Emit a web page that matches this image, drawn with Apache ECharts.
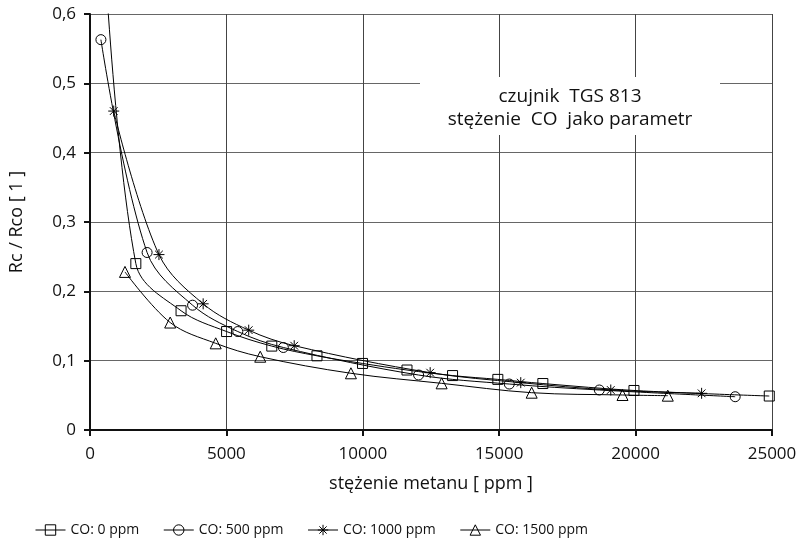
<!DOCTYPE html>
<html>
<head>
<meta charset="utf-8">
<script src="https://cdn.jsdelivr.net/npm/echarts@6/dist/echarts.min.js"></script>
<style>
  html, body { margin: 0; padding: 0; background: #fff; }
  #chart { width: 801px; height: 544px; }
</style>
</head>
<body>
<div id="chart"></div>
<script>
// [stężenie metanu ppm, Rc/Rco]
const co0 = [[400, 0.78], [1680, 0.240], [3338, 0.172], [5007, 0.142], [6664, 0.121], [8320, 0.107],
    [9990, 0.096], [11620, 0.0865], [13290, 0.0785], [14950, 0.073], [16600, 0.067], [19940, 0.057], [24900, 0.049]];
const co500 = [[400, 0.563], [2093, 0.256], [3760, 0.180], [5418, 0.142], [7087, 0.119],
    [12045, 0.0793], [15370, 0.0663], [18670, 0.0577], [23650, 0.048]];
const co1000 = [[870, 0.46], [2528, 0.253], [4148, 0.182], [5818, 0.144], [7486, 0.1216],
    [12470, 0.0827], [15790, 0.0683], [19090, 0.0577], [22420, 0.0529]];
const co1500 = [[1282, 0.228], [2939, 0.155], [4608, 0.125], [6240, 0.1057], [9565, 0.0818],
    [12890, 0.0673], [16190, 0.0538], [19520, 0.0505], [21180, 0.0495]];

const seriesNames = ["CO: 0 ppm", "CO: 500 ppm", "CO: 1000 ppm", "CO: 1500 ppm"];
const noteLines = ["czujnik  TGS 813", "stężenie  CO  jako parametr"];

const font = "'Open Sans', 'DejaVu Sans', sans-serif";
const starPath = "path://M5,0L5,10M0,5L10,5M1.5,1.5L8.5,8.5M8.5,1.5L1.5,8.5";

function makeSeries(name, data, symbol, size) {
    return {
        name: name,
        type: "line",
        data: data,
        smooth: 0.35,
        symbol: symbol,
        symbolSize: size,
        showAllSymbol: true,
        clip: true,
        color: "#000",
        lineStyle: { color: "#000", width: 1 },
        itemStyle: { color: "rgba(0,0,0,0)", borderColor: "#000", borderWidth: 1 },
        emphasis: { disabled: true },
        z: 3
    };
}

const chart = echarts.init(document.getElementById("chart"));
chart.setOption({
    animation: false,
    backgroundColor: "#fff",
    textStyle: { fontFamily: font },
    grid: { left: 83, right: 29, top: 14, bottom: 114 },
    xAxis: {
        type: "value", min: 0, max: 25000, interval: 5000,
        name: "stężenie metanu [ ppm ]", nameLocation: "middle", nameGap: 45,
        nameTextStyle: { fontSize: 18, color: "#111", fontFamily: font },
        axisLine: { lineStyle: { color: "#111", width: 2 } },
        axisTick: { show: true, length: 6, lineStyle: { color: "#111", width: 2 } },
        axisLabel: { fontSize: 17, color: "#111", margin: 16, formatter: v => String(v) },
        splitLine: { show: true, lineStyle: { color: "#444", width: 1 } }
    },
    yAxis: {
        type: "value", min: 0, max: 0.6, interval: 0.1,
        name: "Rc / Rco [ 1 ]", nameLocation: "middle", nameGap: 64, nameRotate: 90,
        nameTextStyle: { fontSize: 18, color: "#111", fontFamily: font },
        axisLine: { show: true, lineStyle: { color: "#111", width: 2 } },
        axisTick: { show: true, length: 6, lineStyle: { color: "#111", width: 2 } },
        axisLabel: {
            fontSize: 17, color: "#111", margin: 14,
            formatter: v => (Math.round(v * 10) / 10).toString().replace(".", ",")
        },
        splitLine: { show: true, lineStyle: { color: "#666", width: 1 } }
    },
    legend: {
        bottom: 2, left: 30,
        itemWidth: 30, itemHeight: 13, itemGap: 24,
        lineStyle: { width: 1, color: "#000" },
        itemStyle: { borderWidth: 1, borderColor: "#000" },
        textStyle: { fontSize: 14, color: "#111", fontFamily: font },
        data: seriesNames
    },
    graphic: [
        {
            type: "rect", left: 420, top: 77, z: 10,
            shape: { width: 300, height: 58 },
            style: { fill: "#fff" }
        },
        {
            type: "text", z: 11, x: 570, y: 97,
            style: { text: noteLines[0], fill: "#111", font: "19px " + font, align: "center", verticalAlign: "middle" }
        },
        {
            type: "text", z: 11, x: 570, y: 120,
            style: { text: noteLines[1], fill: "#111", font: "19px " + font, align: "center", verticalAlign: "middle" }
        }
    ],
    series: [
        makeSeries(seriesNames[0], co0, "rect", 10),
        makeSeries(seriesNames[1], co500, "circle", 10),
        makeSeries(seriesNames[2], co1000, starPath, 11),
        makeSeries(seriesNames[3], co1500, "triangle", 11)
    ]
});
</script>
</body>
</html>
